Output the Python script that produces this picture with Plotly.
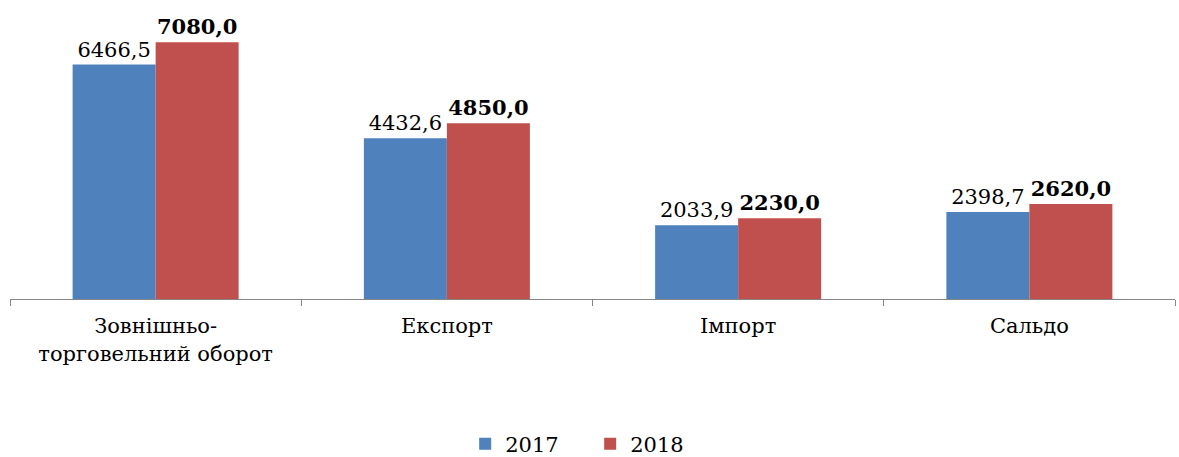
import plotly.graph_objects as go

categories = ["Зовнішньо-<br>торговельний оборот", "Експорт", "Імпорт", "Сальдо"]
series_names = ["2017", "2018"]
values_2017 = [6466.5, 4432.6, 2033.9, 2398.7]
values_2018 = [7080.0, 4850.0, 2230.0, 2620.0]
colors = ["#4F81BD", "#C0504D"]

FONT = "DejaVu Serif"
FSIZE = 21

fig = go.Figure()
fig.add_trace(go.Bar(
    x=categories, y=values_2017, name=series_names[0],
    marker=dict(color=colors[0], line=dict(width=0)),
    texttemplate="%{y:.1f}", textposition="outside",
    textfont=dict(family=FONT, size=FSIZE, color="#000000"),
    cliponaxis=False,
))
fig.add_trace(go.Bar(
    x=categories, y=values_2018, name=series_names[1],
    marker=dict(color=colors[1], line=dict(width=0)),
    texttemplate="<b>%{y:.1f}</b>", textposition="outside",
    textfont=dict(family=FONT, size=FSIZE, color="#000000"),
    cliponaxis=False,
))

fig.update_layout(
    width=1179, height=457,
    margin=dict(l=10, r=4, t=9, b=158, autoexpand=False),
    barmode="group", bargap=0.43, bargroupgap=0,
    separators=", ",
    plot_bgcolor="white", paper_bgcolor="white",
    font=dict(family=FONT, size=FSIZE, color="#000000"),
    showlegend=True,
    legend=dict(orientation="h", x=0.498, xanchor="center",
                yref="container", y=0.028, yanchor="middle",
                entrywidth=80, entrywidthmode="pixels",
                font=dict(family=FONT, size=FSIZE), itemwidth=30, traceorder="normal"),
)
fig.update_xaxes(
    showline=True, linecolor="#868686", linewidth=1,
    ticks="outside", tickson="boundaries", ticklen=6, tickcolor="#868686",
    tickfont=dict(family=FONT, size=FSIZE, color="#000000"),
    ticklabelstandoff=8,
    showgrid=False, automargin=False,
)
fig.update_yaxes(
    range=[0, 8000], visible=False, showgrid=False, zeroline=False, automargin=False,
)

fig.write_html("out.html")
